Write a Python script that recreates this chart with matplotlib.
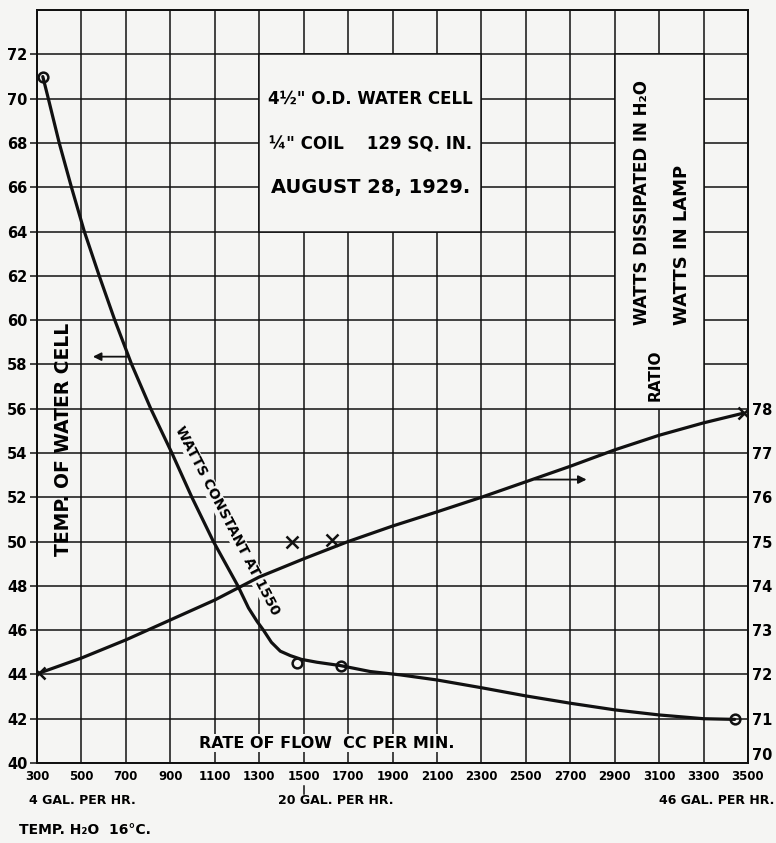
import numpy as np
import matplotlib.pyplot as plt
from matplotlib.patches import Rectangle

# rate of flow, cc per minute
flow_ticks = [300, 500, 700, 900, 1100, 1300, 1500, 1700, 1900, 2100,
              2300, 2500, 2700, 2900, 3100, 3300, 3500]
temp_ticks = [40, 42, 44, 46, 48, 50, 52, 54, 56, 58, 60, 62, 64, 66, 68, 70, 72]
ratio_ticks = [70, 71, 72, 73, 74, 75, 76, 77, 78]

# temperature of water cell, smooth curve and observed points
temp_flow = [326, 351, 400, 455, 513, 580, 650, 726, 812, 907, 997, 1094,
             1204, 1252, 1290, 1319, 1355, 1395, 1440, 1490, 1560, 1665,
             1800, 1935, 2100, 2300, 2500, 2700, 2900, 3100, 3300, 3440]
temp_curve = [71.0, 70.0, 68.0, 66.0, 64.0, 62.0, 60.0, 58.0, 56.0, 54.0,
              52.0, 50.0, 48.0, 47.0, 46.4, 46.0, 45.45, 45.05, 44.85, 44.68,
              44.55, 44.4, 44.13, 43.98, 43.75, 43.4, 43.03, 42.7, 42.4,
              42.17, 42.0, 41.97]
temp_obs_flow = [326, 1470, 1667, 3440]
temp_obs = [71.0, 44.5, 44.4, 42.0]

# ratio watts in water / watts in lamp
ratio_flow = [310, 500, 700, 900, 1100, 1300, 1500, 1700, 1900, 2100, 2300,
              2500, 2700, 2900, 3100, 3300, 3480]
ratio_curve = [72.03, 72.37, 72.78, 73.23, 73.68, 74.2, 74.61, 75.0, 75.35,
               75.67, 76.0, 76.35, 76.7, 77.07, 77.4, 77.68, 77.9]
ratio_obs_flow = [310, 1447, 1627, 3480]
ratio_obs = [72.03, 74.98, 75.04, 77.9]

bg = '#f5f5f3'
ink = '#111111'

plt.rcParams['font.family'] = ['DejaVu Sans']
plt.rcParams['font.weight'] = 'bold'

fig = plt.figure(figsize=(7.76, 8.43), dpi=100, facecolor=bg)
ax = fig.add_axes([0.0477, 0.0949, 0.9162, 0.8931], facecolor=bg)
ax.set_xlim(300, 3500)
ax.set_ylim(40, 74)

# grid
for x in flow_ticks:
    ax.axvline(x, color=ink, lw=1.1, zorder=1)
for y in temp_ticks + [74]:
    ax.axhline(y, color=ink, lw=1.1, zorder=1)

# blank panels for the lettering
ax.add_patch(Rectangle((1300, 64), 1000, 8, facecolor=bg, edgecolor=ink, lw=1.1, zorder=2))
ax.add_patch(Rectangle((2900, 56), 400, 16, facecolor=bg, edgecolor=ink, lw=1.1, zorder=2))

ax.plot(temp_flow, temp_curve, color=ink, lw=2.3, zorder=4, solid_capstyle='round')
ax.plot(temp_obs_flow, temp_obs, 'o', ms=7, mfc='none', mec=ink, mew=1.8, zorder=5)

ax2 = ax.twinx()
ax2.set_ylim(70, 87)
ax2.plot(ratio_flow, ratio_curve, color=ink, lw=2.3, zorder=4, solid_capstyle='round')
ax2.plot(ratio_obs_flow, ratio_obs, 'x', ms=9, mec=ink, mew=1.8, zorder=5)

ax.set_xticks(flow_ticks)
ax.set_xticklabels([str(v) for v in flow_ticks], fontsize=8.5, fontweight='bold')
ax.set_yticks(temp_ticks)
ax.set_yticklabels([str(v) for v in temp_ticks], fontsize=10.5, fontweight='bold')
ax.tick_params(axis='x', length=0, pad=5)
ax.tick_params(axis='y', length=5, width=1.1, pad=2, color=ink)
ax2.set_yticks(ratio_ticks)
ax2.set_yticklabels([str(v) for v in ratio_ticks], fontsize=10.5, fontweight='bold')
ax2.tick_params(axis='y', length=0, pad=3)
# the bottom ratio figure sits a little raised, clear of 3500
ax2.get_yticklabels()[0].set_verticalalignment('bottom')
for a in (ax, ax2):
    for s in a.spines.values():
        s.set_color(ink)
        s.set_linewidth(1.3)

# arrows pointing to the scales
ax.annotate('', xy=(539, 58.35), xytext=(719, 58.35),
            arrowprops=dict(arrowstyle='-|>', color=ink, lw=1.3, mutation_scale=12), zorder=5)
ax.annotate('', xy=(2786, 52.8), xytext=(2529, 52.8),
            arrowprops=dict(arrowstyle='-|>', color=ink, lw=1.3, mutation_scale=12), zorder=5)

# lettering
ax.text(1800, 70.0, '4½" O.D. WATER CELL', ha='center', va='center', fontsize=12, zorder=6)
ax.text(1800, 67.95, '¼" COIL    129 SQ. IN.', ha='center', va='center', fontsize=12, zorder=6)
ax.text(1800, 66.0, 'AUGUST 28, 1929.', ha='center', va='center', fontsize=14, zorder=6)
ax.text(3025, 65.3, 'WATTS DISSIPATED IN H₂O', rotation=90, ha='center', va='center',
        fontsize=12, zorder=6)
ax.text(3205, 63.4, 'WATTS IN LAMP', rotation=90, ha='center', va='center',
        fontsize=13, zorder=6)
ax.text(3084, 57.5, 'RATIO', rotation=90, ha='center', va='center', fontsize=11, zorder=6)
ax.text(417, 54.6, 'TEMP. OF WATER CELL', rotation=90, ha='center', va='center',
        fontsize=13.5, zorder=6)
ax.text(1155, 50.95, 'WATTS CONSTANT AT 1550', rotation=-62.5, ha='center', va='center',
        fontsize=10, zorder=6,
        bbox=dict(facecolor=bg, edgecolor='none', pad=0.5))
ax.text(1602, 40.9, 'RATE OF FLOW  CC PER MIN.', ha='center', va='center', fontsize=11.5,
        zorder=6, bbox=dict(facecolor=bg, edgecolor='none', pad=1))

# small mark under 1500 for 20 gal. per hr.
ax.plot([1500, 1500], [38.95, 38.6], color=ink, lw=1.1, clip_on=False)

fig.text(0.038, 0.051, '4 GAL. PER HR.', ha='left', va='center', fontsize=9)
fig.text(0.358, 0.051, '20 GAL. PER HR.', ha='left', va='center', fontsize=9)
fig.text(0.998, 0.051, '46 GAL. PER HR.', ha='right', va='center', fontsize=9)
fig.text(0.025, 0.0155, 'TEMP. H₂O  16°C.', ha='left', va='center', fontsize=10)

fig.savefig('out.png', dpi=100, facecolor=bg)
